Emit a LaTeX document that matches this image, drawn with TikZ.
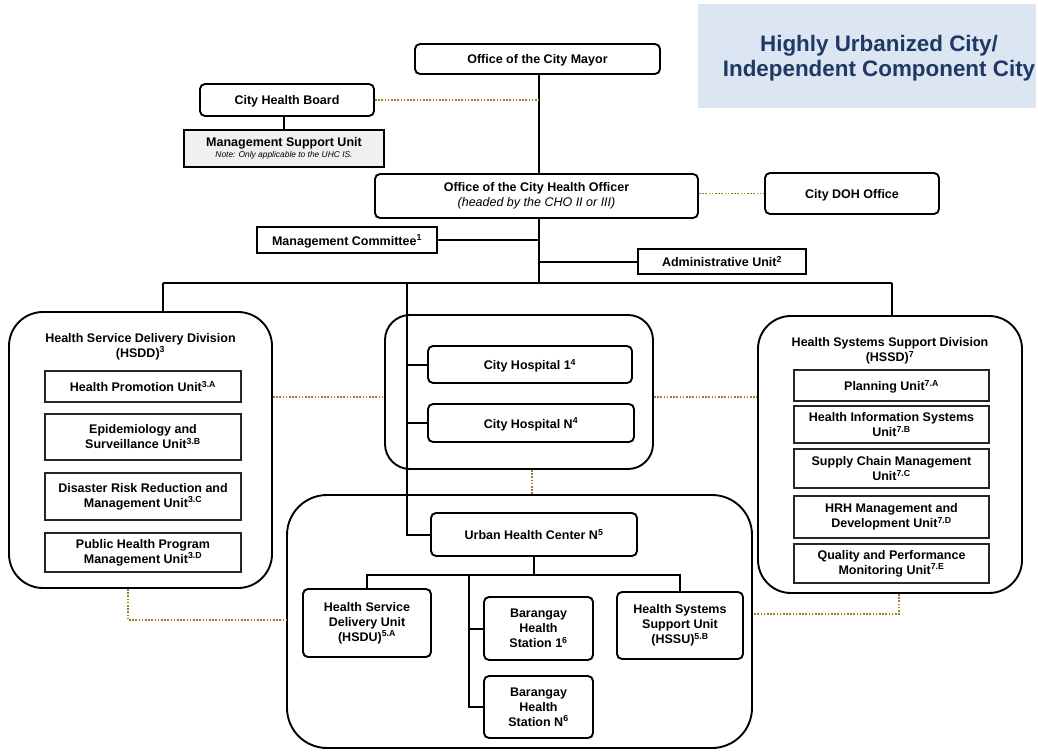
\documentclass[tikz,border=0pt]{standalone}
\usepackage{fontspec}
\setmainfont{Liberation Sans}
\definecolor{dotc}{RGB}{160,125,35}
\definecolor{titlebg}{RGB}{220,230,242}
\definecolor{titlefg}{RGB}{31,56,100}
\definecolor{msufill}{RGB}{240,240,240}
\tikzset{
  lbl/.style={align=center, inner sep=1pt, font=\bfseries\fontsize{12.5}{15}\selectfont},
  one/.style={text height=10pt, text depth=0pt},
  rbox/.style={lbl, draw, line width=1.9pt, rounded corners=5pt, fill=white},
  sbox/.style={lbl, draw, line width=1.6pt, fill=white},
  ubox/.style={lbl, draw=black!85, line width=1.5pt, fill=white},
  cont/.style={draw, line width=1.9pt, rounded corners=#1, fill=white},
  conn/.style={line width=2pt},
  dotl/.style={draw=dotc, line width=1.8pt, dash pattern=on 1.6pt off 1.6pt},
}
\begin{document}
\begin{tikzpicture}[x=1pt,y=-1pt]
\useasboundingbox (0,0) rectangle (1038,754);
% title
\node[fill=titlebg, minimum width=338, minimum height=104, inner sep=0] (tbox) at (867,56) {};
\node[text=titlefg, align=center, font=\bfseries\fontsize{22.4}{25}\selectfont] (title) at (879,58) {Highly Urbanized City/\\Independent Component City};
% containers
\node[cont=34pt, minimum width=263, minimum height=276] (hsdd) at (140.5,450) {};
\node[cont=25pt, minimum width=268, minimum height=154] (hosp) at (519,392) {};
\node[cont=33pt, minimum width=264, minimum height=277] (hssd) at (890,454.5) {};
\node[cont=40pt, minimum width=465, minimum height=253] (uhc) at (519.5,621.5) {};
% junction coordinates
\coordinate (sp) at (539,283);
\coordinate (d1) at (163,283);
\coordinate (d2) at (407,283);
\coordinate (d3) at (892,283);
\coordinate (hd) at (0,397);
\coordinate (hb) at (532,0);
\coordinate (hl) at (128,620);
\coordinate (hr) at (899,614);
\coordinate (ub) at (534,575);
\coordinate (um) at (469,575);
% top nodes
\node[rbox, one, minimum width=245, minimum height=30] (mayor) at (537.5,59) {Office of the City Mayor};
\node[rbox, one, minimum width=174, minimum height=32] (chb) at (287,100) {City Health Board};
\node[sbox, fill=msufill, minimum width=200, minimum height=37] (msu) at (284,148.5) {Management Support Unit\\[-4pt]{\mdseries\itshape\fontsize{8.4}{9}\selectfont Note: Only applicable to the UHC IS.}};
\node[rbox, minimum width=323, minimum height=44] (cho) at (536.5,196) {Office of the City Health Officer\\{\mdseries\itshape (headed by the CHO II or III)}};
\node[rbox, one, minimum width=174, minimum height=41] (doh) at (852,193.5) {City DOH Office};
\node[sbox, one, minimum width=180, minimum height=26] (mc) at (347,240) {Management Committee\textsuperscript{1}};
\node[sbox, one, minimum width=168, minimum height=25] (au) at (722,261.5) {Administrative Unit\textsuperscript{2}};
% HSDD
\node[lbl] (hsddt) at (140.5,346.5) {Health Service Delivery Division\\(HSDD)\textsuperscript{3}};
\node[ubox, one, minimum width=196, minimum height=31] (hp) at (143,386.5) {Health Promotion Unit\textsuperscript{3.A}};
\node[ubox, minimum width=196, minimum height=46] (epi) at (143,437) {Epidemiology and\\Surveillance Unit\textsuperscript{3.B}};
\node[ubox, minimum width=196, minimum height=47] (drr) at (143,496.5) {Disaster Risk Reduction and\\Management Unit\textsuperscript{3.C}};
\node[ubox, minimum width=196, minimum height=39] (php) at (143,552.5) {Public Health Program\\Management Unit\textsuperscript{3.D}};
% hospitals
\node[rbox, one, minimum width=204, minimum height=37] (ch1) at (530,364.5) {City Hospital 1\textsuperscript{4}};
\node[rbox, one, minimum width=206, minimum height=38] (chn) at (531,423) {City Hospital N\textsuperscript{4}};
% HSSD
\node[lbl] (hssdt) at (890,351) {Health Systems Support Division\\(HSSD)\textsuperscript{7}};
\node[ubox, one, minimum width=195, minimum height=31] (plan) at (891.5,385.5) {Planning Unit\textsuperscript{7.A}};
\node[ubox, minimum width=195, minimum height=37] (his) at (891.5,424.5) {Health Information Systems\\Unit\textsuperscript{7.B}};
\node[ubox, minimum width=195, minimum height=39] (scm) at (891.5,468.5) {Supply Chain Management\\Unit\textsuperscript{7.C}};
\node[ubox, minimum width=195, minimum height=42] (hrh) at (891.5,517) {HRH Management and\\Development Unit\textsuperscript{7.D}};
\node[ubox, minimum width=195, minimum height=39] (qpm) at (891.5,563.5) {Quality and Performance\\Monitoring Unit\textsuperscript{7.E}};
% UHC
\node[rbox, one, minimum width=206, minimum height=43] (uhcn) at (534,534.5) {Urban Health Center N\textsuperscript{5}};
\node[rbox, minimum width=128, minimum height=68] (hsdu) at (367,623) {Health Service\\Delivery Unit\\(HSDU)\textsuperscript{5.A}};
\node[rbox, minimum width=109, minimum height=63] (bhs1) at (538.5,628.5) {Barangay\\Health\\Station 1\textsuperscript{6}};
\node[rbox, minimum width=126, minimum height=67] (hssu) at (680,625.5) {Health Systems\\Support Unit\\(HSSU)\textsuperscript{5.B}};
\node[rbox, minimum width=109, minimum height=62] (bhsn) at (538.5,707) {Barangay\\Health\\Station N\textsuperscript{6}};
% solid connectors
\draw[conn] (sp |- mayor.south) -- (sp |- cho.north);
\draw[conn] (sp |- cho.south) -- (sp);
\draw[conn] (msu.north |- chb.south) -- (msu.north);
\draw[conn] (mc.east) -- (mc.east -| sp);
\draw[conn] (au.west -| sp) -- (au.west);
\draw[conn] (d1) -- (d3);
\draw[conn] (d1) -- (d1 |- hsdd.north);
\draw[conn] (d3) -- (d3 |- hssd.north);
\draw[conn] (d2) -- (d2 |- uhcn.west) -- (uhcn.west);
\draw[conn] (d2 |- ch1.west) -- (ch1.west);
\draw[conn] (d2 |- chn.west) -- (chn.west);
\draw[conn] (uhcn.south) -- (ub);
\draw[conn] (hsdu.north) -- (hsdu.north |- ub) -- (hssu.north |- ub) -- (hssu.north);
\draw[conn] (um) -- (um |- bhsn.west) -- (bhsn.west);
\draw[conn] (um |- bhs1.west) -- (bhs1.west);
% dotted connectors
\draw[dotl] (chb.east) -- (chb.east -| sp);
\draw[dotl] (cho.east |- doh.west) -- (doh.west);
\draw[dotl] (hd -| hsdd.east) -- (hd -| hosp.west);
\draw[dotl] (hd -| hosp.east) -- (hd -| hssd.west);
\draw[dotl] (hb |- hosp.south) -- (hb |- uhc.north);
\draw[dotl] (hl |- hsdd.south) -- (hl) -- (hl -| uhc.west);
\draw[dotl] (hr |- hssd.south) -- (hr) -- (hr -| uhc.east);
\end{tikzpicture}
\end{document}
